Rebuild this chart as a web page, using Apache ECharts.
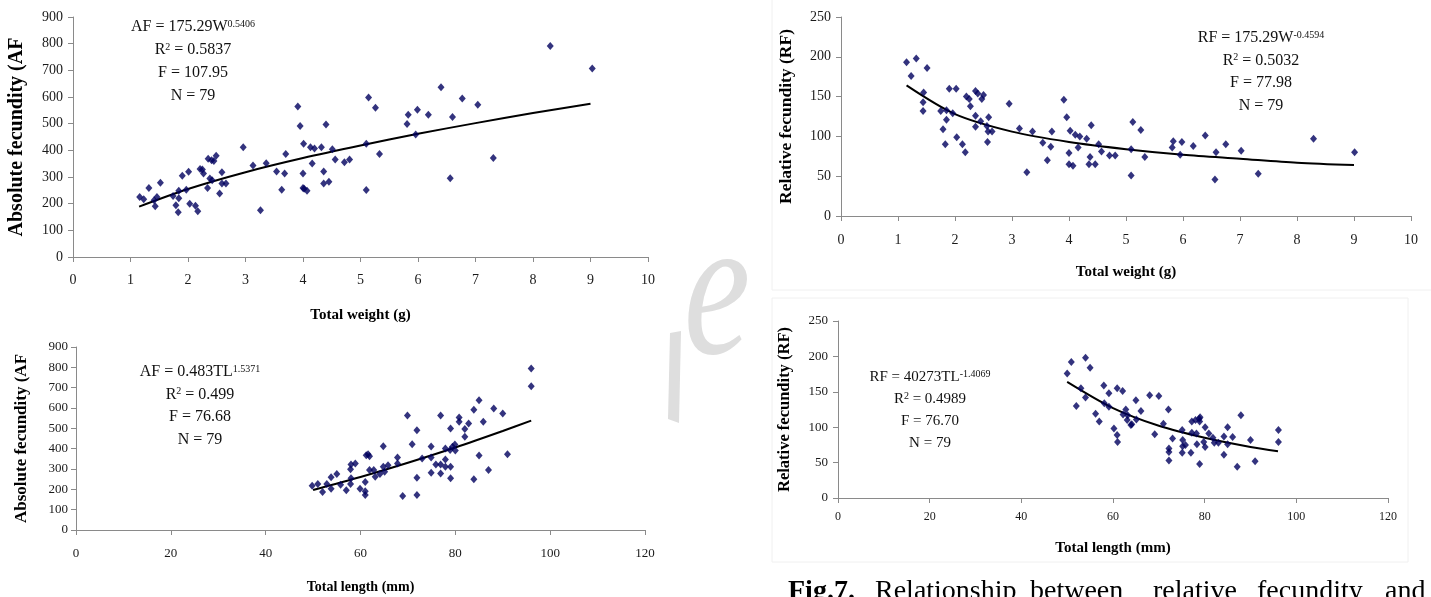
<!DOCTYPE html>
<html>
<head>
<meta charset="utf-8">
<title>Fecundity relationships</title>
<script src="https://cdn.jsdelivr.net/npm/echarts@6/dist/echarts.min.js"></script>
<style>
html, body { margin: 0; padding: 0; background: #fff; }
#main { width: 1431px; height: 597px; }
</style>
</head>
<body>
<div id="main"></div>
<script>
// absolute fecundity vs total weight (g)
var afWeightPts = [
  [1.16,225],[1.23,217],[1.32,259],[1.41,213],[1.43,190],[1.46,225],[1.52,278],[1.74,229],[1.79,194],[1.83,168],
  [1.84,220],[1.84,248],[1.90,305],[1.97,252],[2.01,320],[2.03,200],[2.13,192],[2.17,172],[2.21,330],[2.25,328],
  [2.27,313],[2.34,259],[2.35,368],[2.38,294],[2.41,363],[2.42,288],[2.45,360],[2.49,380],[2.55,238],[2.59,318],
  [2.59,276],[2.66,276],[2.96,412],[3.13,343],[3.26,175],[3.36,352],[3.54,321],[3.63,252],[3.68,313],[3.70,386],
  [3.91,564],[3.95,491],[4.00,313],[4.01,425],[4.00,259],[4.02,256],[4.07,248],[4.13,412],[4.16,351],[4.20,407],
  [4.32,412],[4.36,321],[4.36,276],[4.40,497],[4.45,282],[4.51,404],[4.56,366],[4.72,355],[4.81,366],[5.10,425],
  [5.10,251],[5.14,598],[5.26,560],[5.33,386],[5.81,499],[5.83,533],[5.96,459],[5.99,552],[6.18,533],[6.40,637],
  [6.56,295],[6.60,525],[6.77,594],[7.04,571],[7.31,371],[8.30,791],[9.03,707]
];
// absolute fecundity vs total length (mm)
var afLengthPts = [
  [49.8,218],[51.0,226],[52.0,187],[52.9,226],[53.8,260],[53.8,203],[55.0,276],[55.8,223],[57.0,196],[57.9,299],
  [58.0,322],[57.9,226],[58.0,255],[58.9,327],[59.9,203],[61.0,236],[61.0,190],[61.0,172],[61.2,368],[61.6,372],
  [61.9,363],[61.9,295],[62.8,295],[63.1,262],[64.1,275],[64.8,311],[64.8,412],[65.1,286],[65.8,319],[67.8,357],
  [67.8,327],[68.9,167],[69.9,563],[70.9,422],[71.9,491],[71.9,257],[71.9,172],[73.0,352],[74.9,411],[74.9,357],
  [74.9,281],[75.9,322],[76.9,563],[76.9,322],[76.9,278],[77.9,401],[77.9,347],[77.9,311],[78.9,393],[79.0,499],
  [79.0,311],[79.0,254],[79.4,409],[79.9,421],[80.0,391],[80.8,553],[80.8,532],[82.0,497],[82.0,458],[82.8,524],
  [83.9,592],[83.9,249],[85.0,638],[85.0,367],[85.9,532],[87.0,295],[88.1,597],[90.0,573],[91.0,372],[96.0,794],
  [96.0,707]
];
// relative fecundity vs total weight (g)
var rfWeightPts = [
  [1.15,193],[1.23,176],[1.32,198],[1.45,155],[1.44,143],[1.44,132],[1.51,186],[1.75,132],[1.79,109],[1.83,90],
  [1.85,121],[1.85,133],[1.90,160],[1.96,129],[2.02,160],[2.03,99],[2.13,90],[2.18,80],[2.20,150],[2.25,147],
  [2.27,138],[2.36,157],[2.36,126],[2.36,112],[2.40,154],[2.45,119],[2.47,147],[2.50,152],[2.56,113],[2.57,93],
  [2.59,124],[2.58,106],[2.65,106],[2.95,141],[3.13,110],[3.26,55],[3.36,106],[3.54,92],[3.62,70],[3.68,87],
  [3.70,106],[3.91,146],[3.96,124],[4.00,79],[4.00,65],[4.02,107],[4.07,63],[4.11,102],[4.16,86],[4.19,100],
  [4.31,97],[4.35,65],[4.37,74],[4.39,114],[4.46,65],[4.52,90],[4.57,81],[4.71,76],[4.81,76],[5.09,84],
  [5.09,51],[5.12,118],[5.26,108],[5.33,74],[5.81,86],[5.83,94],[5.95,77],[5.98,93],[6.18,88],[6.39,101],
  [6.56,46],[6.58,80],[6.75,90],[7.02,82],[7.32,53],[8.29,97],[9.01,80]
];
// relative fecundity vs total length (mm)
var rfLengthPts = [
  [50.0,176],[50.9,192],[52.0,130],[53.0,155],[54.0,198],[54.0,142],[55.0,184],[56.2,119],[57.0,108],[58.0,159],
  [58.1,134],[59.1,148],[59.1,129],[60.2,98],[60.9,155],[60.9,89],[61.0,79],[62.1,151],[62.2,118],[62.8,125],
  [63.1,110],[63.2,117],[63.9,103],[64.1,104],[65.0,138],[65.1,111],[66.1,123],[68.0,145],[69.1,90],[70.0,144],
  [71.0,105],[72.1,125],[72.2,70],[72.2,65],[72.2,53],[73.0,84],[75.1,96],[75.2,82],[75.2,73],[75.8,75],
  [75.1,64],[77.0,64],[77.2,92],[77.2,108],[78.0,110],[78.2,91],[78.3,76],[78.8,112],[78.9,108],[78.9,48],
  [79.0,114],[79.8,79],[80.1,100],[80.1,72],[80.9,91],[81.8,85],[82.1,78],[83.0,78],[84.2,87],[84.2,61],
  [85.0,100],[85.0,76],[86.1,86],[87.1,44],[87.9,117],[90.0,82],[91.0,52],[96.1,96],[96.1,79]
];

// fitted power curves
var weightTicks = [1.15, 2, 3, 4, 5, 6, 7, 8, 9];
var afWeightFit = [189, 255, 318, 371, 418, 462, 502, 540, 575];
var rfWeightFit = [164, 128, 106, 93, 84, 77, 72, 67, 64];
var lengthTicks = [50, 60, 70, 80, 90, 96];
var afLengthFit = [197, 261, 331, 406, 487, 538];
var rfLengthFit = [164, 127, 102, 85, 72, 66];

var serif = '"Liberation Serif", "Times New Roman", serif';
var axisGray = '#8a8a8a';

function pair(xs, ys) {
  return xs.map(function (x, i) { return [x, ys[i]]; });
}

function valueAxis(grid, max, step, name, gap, labelSize, nameSize, margin) {
  return {
    type: 'value', gridIndex: grid, min: 0, max: max, interval: step,
    name: name, nameLocation: 'middle', nameGap: gap,
    nameTextStyle: { fontFamily: serif, fontWeight: 'bold', fontSize: nameSize, color: '#000' },
    axisLine: { show: true, onZero: false, lineStyle: { color: axisGray, width: 1 } },
    axisTick: { show: true, length: 5, lineStyle: { color: axisGray } },
    axisLabel: { fontFamily: serif, fontSize: labelSize, color: '#1a1a1a', margin: margin },
    splitLine: { show: false }
  };
}

function dots(i, pts) {
  return {
    type: 'scatter', xAxisIndex: i, yAxisIndex: i, data: pts,
    symbol: 'diamond', symbolSize: [7, 8],
    itemStyle: { color: '#00005e' }
  };
}

function fit(i, pts) {
  return {
    type: 'line', xAxisIndex: i, yAxisIndex: i, data: pts,
    showSymbol: false, smooth: 0.3, z: 1,
    lineStyle: { color: '#000', width: 2 }
  };
}

function statLines(cx, top, step, size, first, supText, rest) {
  var rich = {
    a: { fontFamily: serif, fontSize: size, fill: '#111' },
    s: { fontFamily: serif, fontSize: Math.round(size * 0.65), fill: '#111', verticalAlign: 'top' }
  };
  var lines = ['{a|' + first + '}{s|' + supText + '}', '{a|R}{s|2}{a| = ' + rest[0] + '}',
    '{a|F = ' + rest[1] + '}', '{a|N = ' + rest[2] + '}'];
  return lines.map(function (t, k) {
    return {
      type: 'text', x: cx, y: top + k * step, silent: true,
      style: { text: t, rich: rich, align: 'center', verticalAlign: 'middle' }
    };
  });
}

function word(x, txt, bold) {
  return {
    type: 'text', x: x, y: 578, silent: true,
    style: { text: txt, fontFamily: serif, fontSize: 28, fontWeight: bold ? 'bold' : 'normal',
      fill: '#000', align: 'left', verticalAlign: 'top' }
  };
}

var graphics = []
  .concat(statLines(193, 27, 23, 16, 'AF = 175.29W', '0.5406', ['0.5837', '107.95', '79']))
  .concat(statLines(200, 372, 22.5, 16, 'AF = 0.483TL', '1.5371', ['0.499', '76.68', '79']))
  .concat(statLines(1261, 38, 22.5, 16, 'RF = 175.29W', '-0.4594', ['0.5032', '77.98', '79']))
  .concat(statLines(930, 377, 22, 15, 'RF = 40273TL', '-1.4069', ['0.4989', '76.70', '79']))
  .concat([
    word(788, 'Fig.7.', true), word(875, 'Relationship'), word(1030, 'between'),
    word(1153, 'relative'), word(1257, 'fecundity'), word(1385, 'and'),
    { type: 'rect', silent: true, z: -10, shape: { x: 772, y: -2, width: 662, height: 292 },
      style: { fill: 'none', stroke: '#f0f0f0', lineWidth: 1 } },
    { type: 'rect', silent: true, z: -10, shape: { x: 772, y: 298, width: 636, height: 264 },
      style: { fill: 'none', stroke: '#f0f0f0', lineWidth: 1 } },
    { type: 'text', silent: true, z: -5, x: 717, y: 300, scaleX: 0.75,
      style: { text: 'e', fontFamily: serif, fontStyle: 'italic', fontSize: 200, fill: '#dedede',
        align: 'center', verticalAlign: 'middle' } },
    { type: 'polygon', silent: true, z: -5,
      shape: { points: [[670, 333], [681, 331], [679, 423], [668, 419]] },
      style: { fill: '#dedede' } }
  ]);

var option = {
  animation: false,
  backgroundColor: '#fff',
  grid: [
    { left: 73, top: 17, width: 575, height: 240 },
    { left: 76, top: 347, width: 569, height: 183 },
    { left: 841, top: 17, width: 570, height: 199 },
    { left: 838, top: 321, width: 550, height: 177 }
  ],
  xAxis: [
    valueAxis(0, 10, 1, 'Total weight (g)', 51, 14, 15, 16),
    valueAxis(1, 120, 20, 'Total length (mm)', 50, 13, 14, 17),
    valueAxis(2, 10, 1, 'Total weight (g)', 49, 14, 15, 17),
    valueAxis(3, 120, 20, 'Total length (mm)', 43, 12, 15, 13)
  ],
  yAxis: [
    valueAxis(0, 900, 100, 'Absolute fecundity (AF', 46, 14, 20, 10),
    valueAxis(1, 900, 100, 'Absolute fecundity (AF', 46, 13, 17, 8),
    valueAxis(2, 250, 50, 'Relative fecundity (RF)', 46, 14, 17.5, 10),
    valueAxis(3, 250, 50, 'Relative fecundity (RF)', 45, 13, 16.5, 10)
  ],
  series: [
    fit(0, pair(weightTicks, afWeightFit)), dots(0, afWeightPts),
    fit(1, pair(lengthTicks, afLengthFit)), dots(1, afLengthPts),
    fit(2, pair(weightTicks, rfWeightFit)), dots(2, rfWeightPts),
    fit(3, pair(lengthTicks, rfLengthFit)), dots(3, rfLengthPts)
  ],
  graphic: graphics
};

var myChart = echarts.init(document.getElementById('main'));
myChart.setOption(option);
</script>
</body>
</html>
